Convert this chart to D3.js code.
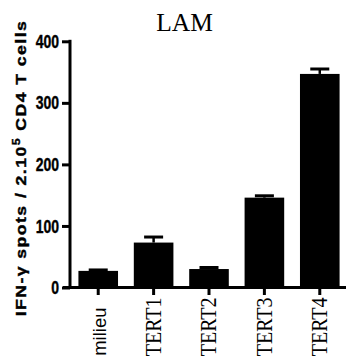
<!DOCTYPE html>
<html>
<head>
<meta charset="utf-8">
<script src="https://cdn.jsdelivr.net/npm/d3@7"></script>
<style>
  body { margin: 0; background: #fff; }
  svg { display: block; }
</style>
</head>
<body>
<div id="chart"></div>
<script>
// data
const categories = ["milieu", "TERT1", "TERT2", "TERT3", "TERT4"];
const means = [27, 73, 30, 146, 347];
const sems = [1.5, 9, 2.5, 3, 8];
const yTicks = [0, 100, 200, 300, 400];

const width = 346, height = 359;

const svg = d3.select("#chart")
	.append("svg")
	.attr("width", width)
	.attr("height", height);

const x = d3.scaleBand()
	.domain(categories)
	.range([70, 348])
	.paddingInner(0.285)
	.paddingOuter(0.152);

const y = d3.scaleLinear()
	.domain([0, 400])
	.range([287.5, 41.3]);

// bars
svg.append("g")
	.selectAll("rect")
	.data(categories)
	.enter()
	.append("rect")
	.attr("x", (d) => x(d))
	.attr("width", x.bandwidth())
	.attr("y", (d, i) => y(means[i]))
	.attr("height", (d, i) => y(0) - y(means[i]))
	.attr("fill", "#000");

// error bars (upper only)
const capHalf = x.bandwidth() * 0.24;
const err = svg.append("g").attr("stroke", "#000");
err.selectAll("line.stem")
	.data(categories)
	.enter()
	.append("line")
	.attr("class", "stem")
	.attr("x1", (d) => x(d) + x.bandwidth() / 2)
	.attr("x2", (d) => x(d) + x.bandwidth() / 2)
	.attr("y1", (d, i) => y(means[i]))
	.attr("y2", (d, i) => y(means[i] + sems[i]))
	.attr("stroke-width", 2.5);
err.selectAll("line.cap")
	.data(categories)
	.enter()
	.append("line")
	.attr("class", "cap")
	.attr("x1", (d) => x(d) + x.bandwidth() / 2 - capHalf)
	.attr("x2", (d) => x(d) + x.bandwidth() / 2 + capHalf)
	.attr("y1", (d, i) => y(means[i] + sems[i]))
	.attr("y2", (d, i) => y(means[i] + sems[i]))
	.attr("stroke-width", 3);

// y axis
const yAxis = d3.axisLeft(y).tickValues(yTicks).tickSize(8).tickSizeOuter(0);
const gy = svg.append("g")
	.attr("transform", `translate(${x.range()[0]},0)`)
	.call(yAxis);
gy.select(".domain").attr("stroke-width", 3).attr("d", `M0,${y(0)}V${y(400) - 1.5}`);
gy.selectAll(".tick line").attr("stroke-width", 3);
gy.selectAll(".tick text")
	.attr("x", null)
	.attr("dy", null)
	.attr("y", 0)
	.attr("transform", "translate(-11,0) scale(1,1.25)")
	.attr("dominant-baseline", "central")
	.attr("fill", "#000")
	.attr("stroke", "#000")
	.attr("stroke-width", 0.3)
	.style("font-family", "'Liberation Sans', Arial, sans-serif")
	.style("font-weight", "bold")
	.style("font-size", "14px");

// x axis
const xAxis = d3.axisBottom(x).tickSize(7.5).tickSizeOuter(0);
const gx = svg.append("g")
	.attr("transform", `translate(0,${y(0)})`)
	.call(xAxis);
gx.select(".domain").attr("stroke-width", 3).attr("d", `M${x.range()[0] - 7},0H${x.range()[1]}`);
gx.selectAll(".tick line").attr("stroke-width", 3);
gx.selectAll(".tick text")
	.attr("y", null)
	.attr("dy", null)
	.attr("text-anchor", "end")
	.attr("fill", "#000")
	.each(function (d) {
		const t = d3.select(this);
		if (d === "milieu") {
			t.attr("transform", "translate(7.5,20) rotate(-90)")
				.style("font-family", "'Liberation Sans', Arial, sans-serif")
				.style("font-size", "18.5px");
		} else {
			t.attr("transform", "translate(7.3,10) rotate(-90) scale(1,1.2)")
				.style("font-family", "'Liberation Serif', 'Times New Roman', serif")
				.style("font-size", "20px");
		}
	});

// title
svg.append("text")
	.attr("x", 184.5)
	.attr("y", 31)
	.attr("text-anchor", "middle")
	.style("font-family", "'Liberation Serif', 'Times New Roman', serif")
	.style("font-size", "25.5px")
	.text("LAM");

// y label
const yl = svg.append("text")
	.attr("transform", "translate(26,168) rotate(-90) scale(1.18,1)")
	.attr("text-anchor", "middle")
	.attr("stroke", "#000")
	.attr("stroke-width", 0.4)
	.style("font-family", "'Liberation Sans', Arial, sans-serif")
	.style("font-weight", "bold")
	.style("font-size", "15px")
	.style("letter-spacing", "1.2px");
yl.append("tspan").text("IFN-\u03b3 spots / 2.10");
yl.append("tspan").attr("dy", -6.5).style("font-size", "10.5px").text("5");
yl.append("tspan").attr("dy", 6.5).text(" CD4 T cells");
</script>
</body>
</html>
